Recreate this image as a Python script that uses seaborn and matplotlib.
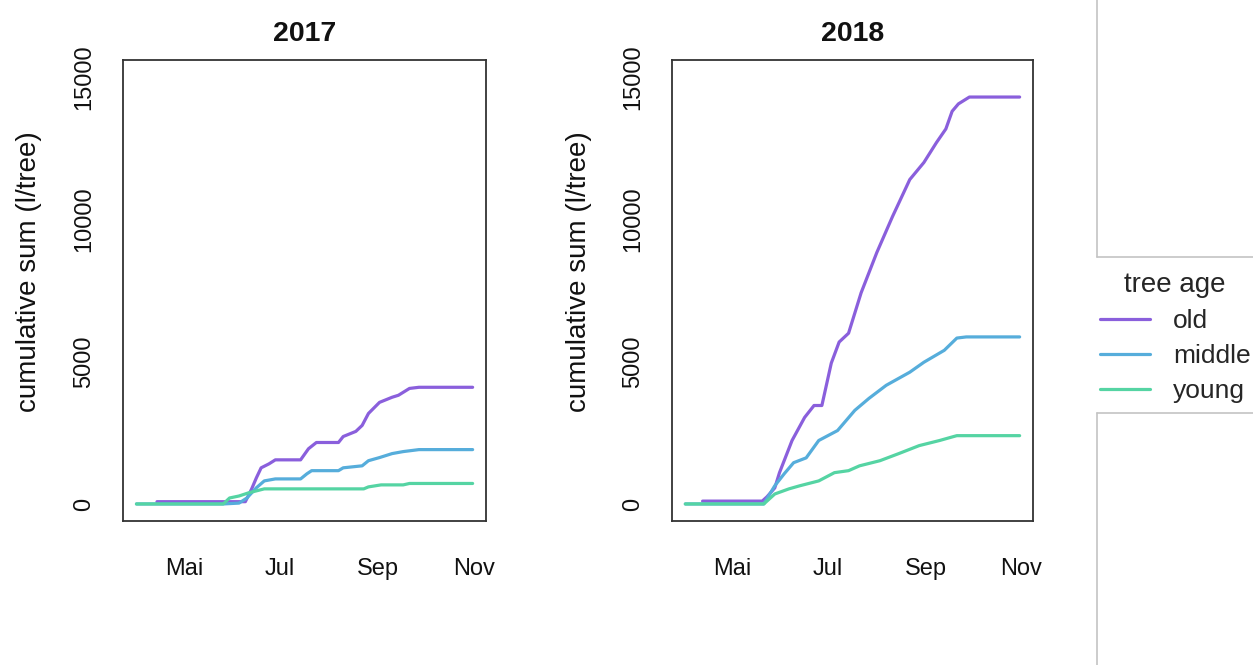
import pandas as pd
import matplotlib.pyplot as plt
import seaborn as sns
from matplotlib.lines import Line2D

ages = ['old', 'middle', 'young']
colors = ['#8a5fdc', '#56addb', '#55d4a3']
years = [2017, 2018]
month_ticks = ['05-01', '07-01', '09-01', '11-01']
month_labels = ['Mai', 'Jul', 'Sep', 'Nov']

# cumulative sums (date MM-DD, l/tree)
old_2017_dates = ['04-14', '06-09', '06-13', '06-16', '06-19', '06-24', '06-28', '07-14', '07-19', '07-24',
                  '08-07', '08-10', '08-18', '08-22', '08-26', '09-02', '09-10', '09-14', '09-21', '09-27', '10-31']
old_2017_vals = [80, 80, 530, 920, 1270, 1410, 1550, 1550, 1940, 2160,
                 2160, 2370, 2550, 2760, 3180, 3570, 3750, 3820, 4060, 4100, 4100]
middle_2017_dates = ['04-01', '05-26', '06-05', '06-10', '06-16', '06-21', '06-28', '07-14', '07-18', '07-21',
                     '08-07', '08-10', '08-22', '08-26', '09-02', '09-10', '09-17', '09-27', '10-31']
middle_2017_vals = [0, 0, 30, 210, 570, 810, 880, 880, 1060, 1170,
                    1170, 1270, 1340, 1520, 1630, 1770, 1840, 1910, 1910]
young_2017_dates = ['04-01', '05-26', '05-30', '06-05', '06-11', '06-16', '06-21', '08-23', '08-26', '09-03',
                    '09-17', '09-21', '10-31']
young_2017_vals = [0, 0, 210, 280, 390, 460, 530, 530, 600, 670, 670, 720, 720]

old_2018_dates = ['04-12', '05-20', '05-23', '05-28', '05-31', '06-08', '06-16', '06-22', '06-27', '07-03',
                  '07-08', '07-14', '07-22', '08-01', '08-11', '08-22', '08-31', '09-08', '09-14', '09-18',
                  '09-22', '09-29', '10-31']
old_2018_vals = [100, 100, 250, 565, 1100, 2230, 3040, 3460, 3460, 4950,
                 5690, 6000, 7420, 8835, 10100, 11400, 12000, 12700, 13180, 13800,
                 14060, 14300, 14300]
middle_2018_dates = ['04-01', '05-21', '05-28', '06-03', '06-09', '06-17', '06-25', '07-07', '07-18', '07-27',
                     '08-07', '08-22', '08-31', '09-13', '09-21', '09-27', '10-31']
middle_2018_vals = [0, 0, 640, 1060, 1450, 1620, 2230, 2580, 3290, 3710,
                    4170, 4630, 4980, 5400, 5830, 5870, 5870]
young_2018_dates = ['04-01', '05-21', '05-28', '06-06', '06-13', '06-25', '07-05', '07-14', '07-21', '08-03',
                    '08-15', '08-28', '09-10', '09-19', '09-21', '10-31']
young_2018_vals = [0, 0, 350, 530, 640, 810, 1100, 1170, 1340, 1520,
                   1770, 2050, 2230, 2370, 2400, 2400]

series = {
    (2017, 'old'): (old_2017_dates, old_2017_vals),
    (2017, 'middle'): (middle_2017_dates, middle_2017_vals),
    (2017, 'young'): (young_2017_dates, young_2017_vals),
    (2018, 'old'): (old_2018_dates, old_2018_vals),
    (2018, 'middle'): (middle_2018_dates, middle_2018_vals),
    (2018, 'young'): (young_2018_dates, young_2018_vals),
}

rows = []
for (yr, age), (ds, vs) in series.items():
    for d, v in zip(ds, vs):
        rows.append({'year': yr, 'age': age, 'date': pd.Timestamp(f'{yr}-{d}'), 'value': v})
df = pd.DataFrame(rows)

sns.set_style('white')
plt.rcParams['font.family'] = ['Liberation Sans', 'DejaVu Sans']

fig = plt.figure(figsize=(12.53, 6.65), dpi=100)
axes_pos = [[0.0982, 0.2165, 0.2897, 0.6932], [0.5363, 0.2165, 0.2881, 0.6932]]

for yr, pos in zip(years, axes_pos):
    ax = fig.add_axes(pos)
    sub = df[df['year'] == yr]
    sns.lineplot(data=sub, x='date', y='value', hue='age', hue_order=ages, palette=colors,
                 estimator=None, lw=2.3, legend=False, ax=ax)
    pad = pd.Timedelta(days=8.5)
    ax.set_xlim(pd.Timestamp(f'{yr}-04-01') - pad, pd.Timestamp(f'{yr}-10-31') + pad)
    ax.set_ylim(-600, 15600)
    ax.set_xticks([pd.Timestamp(f'{yr}-{m}') for m in month_ticks])
    ax.set_xticklabels(month_labels)
    ax.set_yticks([0, 5000, 10000, 15000])
    ax.set_yticklabels(['0', '5000', '10000', '15000'], rotation=90, va='center')
    ax.tick_params(axis='both', direction='out', length=10.8, width=1.2, colors='#333333',
                   labelcolor='#111111', labelsize=17)
    ax.tick_params(axis='x', pad=16)
    ax.tick_params(axis='y', pad=9)
    for sp in ax.spines.values():
        sp.set_color('#333333')
        sp.set_linewidth(1.3)
    ax.set_xlabel('')
    ax.set_ylabel('cumulative sum (l/tree)', fontsize=20, color='#111111')
    ax.yaxis.set_label_coords(-0.222, 0.54)
    ax.set_title(str(yr), fontsize=20.5, fontweight='bold', pad=14, color='#111111')

handles = [Line2D([], [], color=c, lw=2.3) for c in colors]
fig.legend(handles, ages, title='tree age', frameon=False, fontsize=19, title_fontsize=20,
           handlelength=1.9, handletextpad=0.85, labelspacing=0.42, borderpad=0, borderaxespad=0,
           loc='upper left', bbox_to_anchor=(0.878, 0.591))

# gray frame pieces at the right edge
gx = 1097 / 1253
fig.add_artist(Line2D([gx, gx], [0.6135, 1.0], color='#c4c4c4', lw=1.2, transform=fig.transFigure))
fig.add_artist(Line2D([gx, 1.0], [0.6135, 0.6135], color='#c4c4c4', lw=1.2, transform=fig.transFigure))
fig.add_artist(Line2D([gx, gx], [0.0, 0.379], color='#c4c4c4', lw=1.2, transform=fig.transFigure))
fig.add_artist(Line2D([gx, 1.0], [0.379, 0.379], color='#c4c4c4', lw=1.2, transform=fig.transFigure))

fig.savefig('out.png', dpi=100)
